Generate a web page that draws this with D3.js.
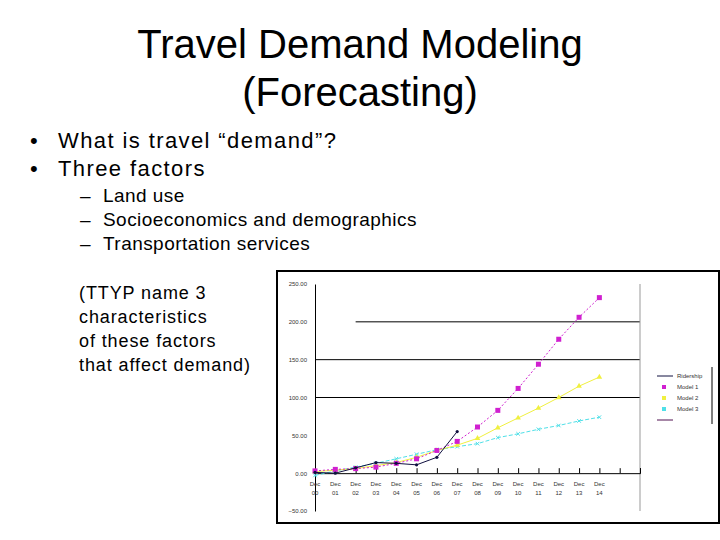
<!DOCTYPE html>
<html lang="en">
<head>
<meta charset="UTF-8">
<title>Travel Demand Modeling</title>
<script src="https://d3js.org/d3.v7.min.js"></script>
<style>
  body { margin: 0; background: #fff; }
  svg text { font-family: "Liberation Sans", Arial, sans-serif; }
</style>
</head>
<body>
<svg id="slide" width="720" height="540"></svg>
<script>
// --- data ---
const periods = ["Dec 00","Dec 01","Dec 02","Dec 03","Dec 04","Dec 05","Dec 06","Dec 07",
                 "Dec 08","Dec 09","Dec 10","Dec 11","Dec 12","Dec 13","Dec 14"];
const actual = [1, 0, 7, 14, 13, 11, 21, 55];
const model1 = [3, 5, 6, 8, 13, 19, 30, 42, 61, 83, 112, 144, 177, 206, 232];
const model2 = [2, 4, 6, 10, 14, 21, 30, 37, 46, 60, 73, 86, 100, 115, 127];
const model3 = [-3, 3, 8, 13, 19, 25, 31, 35, 39, 47, 52, 58, 63, 69, 74];
const yTicks = [-50, 0, 50, 100, 150, 200, 250];
const legendNames = ["Ridership", "Model 1", "Model 2", "Model 3", ""];

const svg = d3.select("#slide");

// --- slide text ---
svg.append("text").attr("x", 360).attr("y", 58).attr("text-anchor", "middle")
  .attr("font-size", 40).text("Travel Demand Modeling");
svg.append("text").attr("x", 360).attr("y", 106).attr("text-anchor", "middle")
  .attr("font-size", 40).text("(Forecasting)");

const bullets = [["What is travel \u201cdemand\u201d?", 148], ["Three factors", 176]];
bullets.forEach(([t, y]) => {
  svg.append("text").attr("x", 30).attr("y", y).attr("font-size", 22).text("\u2022");
  svg.append("text").attr("x", 58).attr("y", y).attr("font-size", 22)
    .attr("letter-spacing", 1.4).text(t);
});
const subs = [["Land use", 202], ["Socioeconomics and demographics", 226], ["Transportation services", 250]];
subs.forEach(([t, y]) => {
  svg.append("text").attr("x", 80).attr("y", y).attr("font-size", 19).text("\u2013");
  svg.append("text").attr("x", 103).attr("y", y).attr("font-size", 19)
    .attr("letter-spacing", 0.45).text(t);
});
["(TTYP name 3", "characteristics", "of these factors", "that affect demand)"].forEach((t, i) => {
  svg.append("text").attr("x", 79).attr("y", 299 + i * 24).attr("font-size", 18)
    .attr("letter-spacing", 0.9).text(t);
});

// --- chart frame ---
svg.append("rect").attr("x", 277).attr("y", 271).attr("width", 442).attr("height", 252)
  .attr("fill", "#fff").attr("stroke", "#000").attr("stroke-width", 2);

const x = d3.scaleLinear().domain([0, 16]).range([315, 640]);
const y = d3.scaleLinear().domain([-50, 250]).range([511, 284]);

// gridlines
[100, 150].forEach(v => {
  svg.append("line").attr("x1", x(0)).attr("x2", x(16)).attr("y1", y(v)).attr("y2", y(v))
    .attr("stroke", "#000");
});
svg.append("line").attr("x1", x(2)).attr("x2", x(16)).attr("y1", y(200)).attr("y2", y(200))
  .attr("stroke", "#000");
svg.append("line").attr("x1", x(16)).attr("x2", x(16)).attr("y1", y(250)).attr("y2", y(-50))
  .attr("stroke", "#999");

// y axis
const yAxis = svg.append("g").attr("transform", `translate(${x(0)},0)`)
  .call(d3.axisLeft(y).tickValues(yTicks).tickSize(0).tickPadding(8).tickFormat(d3.format(".2f")));
yAxis.select(".domain").attr("stroke", "#000");
yAxis.selectAll("text").attr("font-size", 6).attr("fill", "#333");

// x axis at zero
const xAxis = svg.append("g").attr("transform", `translate(0,${y(0)})`)
  .call(d3.axisBottom(x).tickValues(d3.range(17)).tickSize(-5).tickFormat(""));
xAxis.select(".domain").attr("stroke", "#000");
xAxis.selectAll(".tick line").attr("stroke", "#000");
periods.forEach((p, i) => {
  const [a, b] = p.split(" ");
  const t = svg.append("text").attr("x", x(i)).attr("y", y(0) + 13).attr("text-anchor", "middle")
    .attr("font-size", 6).attr("fill", "#333");
  t.append("tspan").attr("x", x(i)).text(a);
  t.append("tspan").attr("x", x(i)).attr("dy", 9).text(b);
});

// --- series ---
const line = d3.line().x((d, i) => x(i)).y(d => y(d));
const series = [
  { data: model3, color: "#4fe0e8", dash: "4,2", marker: "x" },
  { data: model2, color: "#f0f040", dash: null, marker: "tri" },
  { data: model1, color: "#d020d0", dash: "2,2", marker: "sq" },
  { data: actual, color: "#101040", dash: null, marker: "dot" }
];
series.forEach(s => {
  svg.append("path").datum(s.data).attr("d", line).attr("fill", "none")
    .attr("stroke", s.color).attr("stroke-width", 1).attr("stroke-dasharray", s.dash);
  const g = svg.append("g");
  s.data.forEach((v, i) => {
    const cx = x(i), cy = y(v);
    if (s.marker === "sq") g.append("rect").attr("x", cx - 2.5).attr("y", cy - 2.5).attr("width", 5).attr("height", 5).attr("fill", s.color);
    else if (s.marker === "tri") g.append("path").attr("d", d3.symbol(d3.symbolTriangle, 14)()).attr("transform", `translate(${cx},${cy})`).attr("fill", s.color);
    else if (s.marker === "x") g.append("path").attr("d", d3.symbol(d3.symbolTimes, 10)()).attr("transform", `translate(${cx},${cy})`).attr("stroke", s.color).attr("fill", "none");
    else g.append("circle").attr("cx", cx).attr("cy", cy).attr("r", 1.6).attr("fill", s.color);
  });
});

// --- legend ---
const legendColors = ["#101040", "#d020d0", "#f0f040", "#4fe0e8", "#501050"];
svg.append("line").attr("x1", 712).attr("x2", 712).attr("y1", 367).attr("y2", 424).attr("stroke", "#000");
legendNames.forEach((n, i) => {
  const ly = 376 + i * 11;
  if (i === 0 || i === 4) {
    svg.append("line").attr("x1", 657).attr("x2", 673).attr("y1", ly).attr("y2", ly).attr("stroke", legendColors[i]);
  } else {
    svg.append("rect").attr("x", 662).attr("y", ly - 2).attr("width", 4).attr("height", 4).attr("fill", legendColors[i]);
  }
  svg.append("text").attr("x", 677).attr("y", ly + 2).attr("font-size", 6).attr("fill", "#333").text(n);
});
</script>
</body>
</html>
